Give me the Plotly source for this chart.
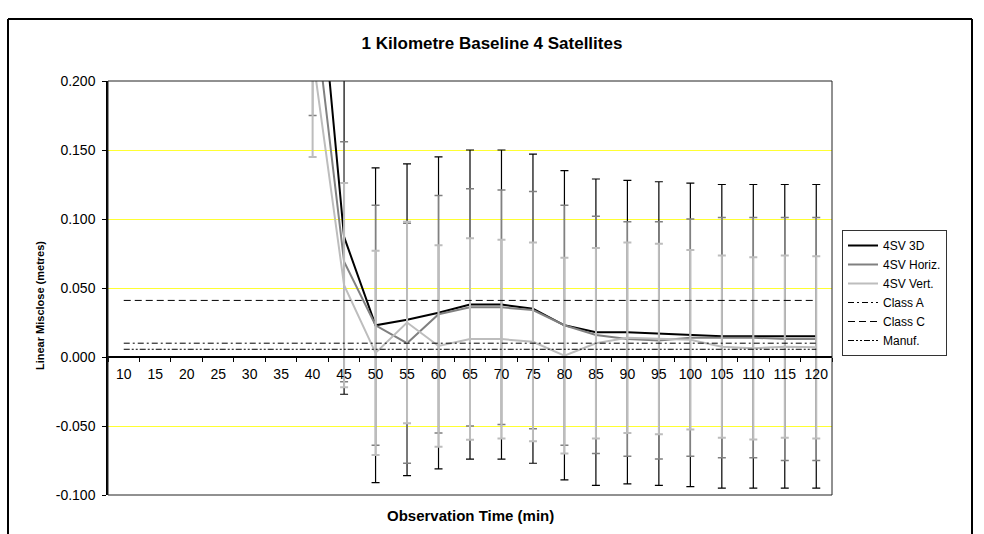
import plotly.graph_objects as go

# ---------------- data ----------------
categories = ["10", "15", "20", "25", "30", "35", "40", "45", "50", "55", "60", "65",
              "70", "75", "80", "85", "90", "95", "100", "105", "110", "115", "120"]

sv3d = [None, None, None, None, None, None, 0.333, 0.087, 0.023, 0.027, 0.032, 0.038,
        0.038, 0.035, 0.023, 0.018, 0.018, 0.017, 0.016, 0.015, 0.015, 0.015, 0.015]
sv3d_err = [None, None, None, None, None, None, 0.114, 0.114, 0.114, 0.113, 0.113, 0.112,
            0.112, 0.112, 0.112, 0.111, 0.110, 0.110, 0.110, 0.110, 0.110, 0.110, 0.110]

svh = [None, None, None, None, None, None, 0.262, 0.069, 0.023, 0.010, 0.031, 0.036,
       0.036, 0.034, 0.023, 0.016, 0.013, 0.012, 0.014, 0.014, 0.014, 0.013, 0.013]
svh_err = [None, None, None, None, None, None, 0.087, 0.087, 0.087, 0.087, 0.086, 0.086,
           0.085, 0.086, 0.087, 0.086, 0.085, 0.086, 0.086, 0.087, 0.087, 0.088, 0.088]

svv = [None, None, None, None, None, None, 0.219, 0.052, 0.003, 0.025, 0.008, 0.013,
       0.013, 0.011, 0.001, 0.010, 0.014, 0.013, 0.0125, 0.0075, 0.0063, 0.0075, 0.007]
svv_err = [None, None, None, None, None, None, 0.074, 0.074, 0.074, 0.073, 0.073, 0.073,
           0.072, 0.072, 0.071, 0.069, 0.069, 0.069, 0.065, 0.066, 0.066, 0.066, 0.066]

class_a = [0.010] * len(categories)
class_c = [0.041] * len(categories)
manuf = [0.0056] * len(categories)

y_tickvals = [-0.1, -0.05, 0.0, 0.05, 0.1, 0.15, 0.2]
y_ticktext = ["-0.100", "-0.050", "0.000", "0.050", "0.100", "0.150", "0.200"]

# ---------------- layout constants (pixels) ----------------
W, H = 984, 534
L, R, T, B = 108, 152, 81, 39
PW, PH = W - L - R, H - T - B
FONT = "Liberation Sans, Arial, sans-serif"


def px_x(p):
    return (p - L) / PW


def px_y(p):
    return (H - B - p) / PH


fig = go.Figure()

series = [
    ("4SV 3D", sv3d, sv3d_err, "#000000", 1.2),
    ("4SV Horiz.", svh, svh_err, "#808080", 1.5),
    ("4SV Vert.", svv, svv_err, "#BDBDBD", 2),
]
for name, vals, errs, col, th in series:
    fig.add_trace(go.Scatter(
        x=categories, y=vals, name=name, mode="lines",
        line=dict(color=col, width=2),
        error_y=dict(type="data", array=errs, symmetric=True, visible=True,
                     color=col, thickness=th, width=4),
    ))

refs = [
    ("Class A", class_a, "6px,3px,2px,3px"),
    ("Class C", class_c, "7px,4px"),
    ("Manuf.", manuf, "6px,2px,2px,2px,2px,2px"),
]
for name, vals, dash in refs:
    fig.add_trace(go.Scatter(
        x=categories, y=vals, name=name, mode="lines",
        line=dict(color="#000000", width=1, dash=dash),
    ))

shapes = [
    # plot area border
    dict(type="rect", xref="paper", yref="paper", x0=0, x1=1, y0=0, y1=1,
         line=dict(color="#222222", width=1), layer="above"),
    # outer chart frame (left, top, right)
    dict(type="line", xref="paper", yref="paper", x0=px_x(8), x1=px_x(8),
         y0=px_y(545), y1=px_y(19), line=dict(color="black", width=2)),
    dict(type="line", xref="paper", yref="paper", x0=px_x(8), x1=px_x(972),
         y0=px_y(19), y1=px_y(19), line=dict(color="black", width=2)),
    dict(type="line", xref="paper", yref="paper", x0=px_x(972), x1=px_x(972),
         y0=px_y(545), y1=px_y(19), line=dict(color="black", width=2)),
]

annotations = [
    dict(text="<b>Observation Time (min)</b>", xref="paper", yref="paper",
         x=px_x(470), y=px_y(515), showarrow=False, xanchor="center", yanchor="middle",
         font=dict(family=FONT, size=15, color="black")),
    dict(text="<b>Linear Misclose (metres)</b>", xref="paper", yref="paper",
         x=px_x(40), y=px_y(306), showarrow=False, textangle=-90,
         xanchor="center", yanchor="middle",
         font=dict(family=FONT, size=11, color="black")),
]

fig.update_layout(
    width=W, height=H,
    margin=dict(l=L, r=R, t=T, b=B, pad=0),
    paper_bgcolor="white", plot_bgcolor="white",
    font=dict(family=FONT, size=13, color="black"),
    title=dict(text="<b>1 Kilometre Baseline 4 Satellites</b>", x=492 / W,
               xanchor="center",
               y=1 - 43 / H, yanchor="middle", xref="container", yref="container",
               font=dict(family=FONT, size=17, color="black")),
    xaxis=dict(type="category", categoryorder="array", categoryarray=categories,
               range=[-0.5, len(categories) - 0.5],
               anchor="free", position=1 / 3,
               showline=True, linecolor="black", linewidth=1.5,
               ticks="outside", tickson="boundaries", ticklen=4, tickcolor="black",
               ticklabelstandoff=4, tickangle=0,
               showgrid=False, zeroline=False,
               tickfont=dict(family=FONT, size=14, color="black")),
    yaxis=dict(range=[-0.1, 0.2], tickvals=y_tickvals, ticktext=y_ticktext,
               showline=True, linecolor="black", linewidth=1.5,
               ticks="outside", ticklen=4, tickcolor="black",
               ticklabelstandoff=4,
               showgrid=True, gridcolor="#FFFF33", gridwidth=1,
               zeroline=False,
               tickfont=dict(family=FONT, size=14, color="black")),
    legend=dict(x=px_x(842), y=px_y(230), xanchor="left", yanchor="top",
                bgcolor="white", bordercolor="#333333", borderwidth=1,
                font=dict(family=FONT, size=12, color="black"),
                tracegroupgap=0),
    shapes=shapes,
    annotations=annotations,
    showlegend=True,
)

fig.write_html("out.html")
